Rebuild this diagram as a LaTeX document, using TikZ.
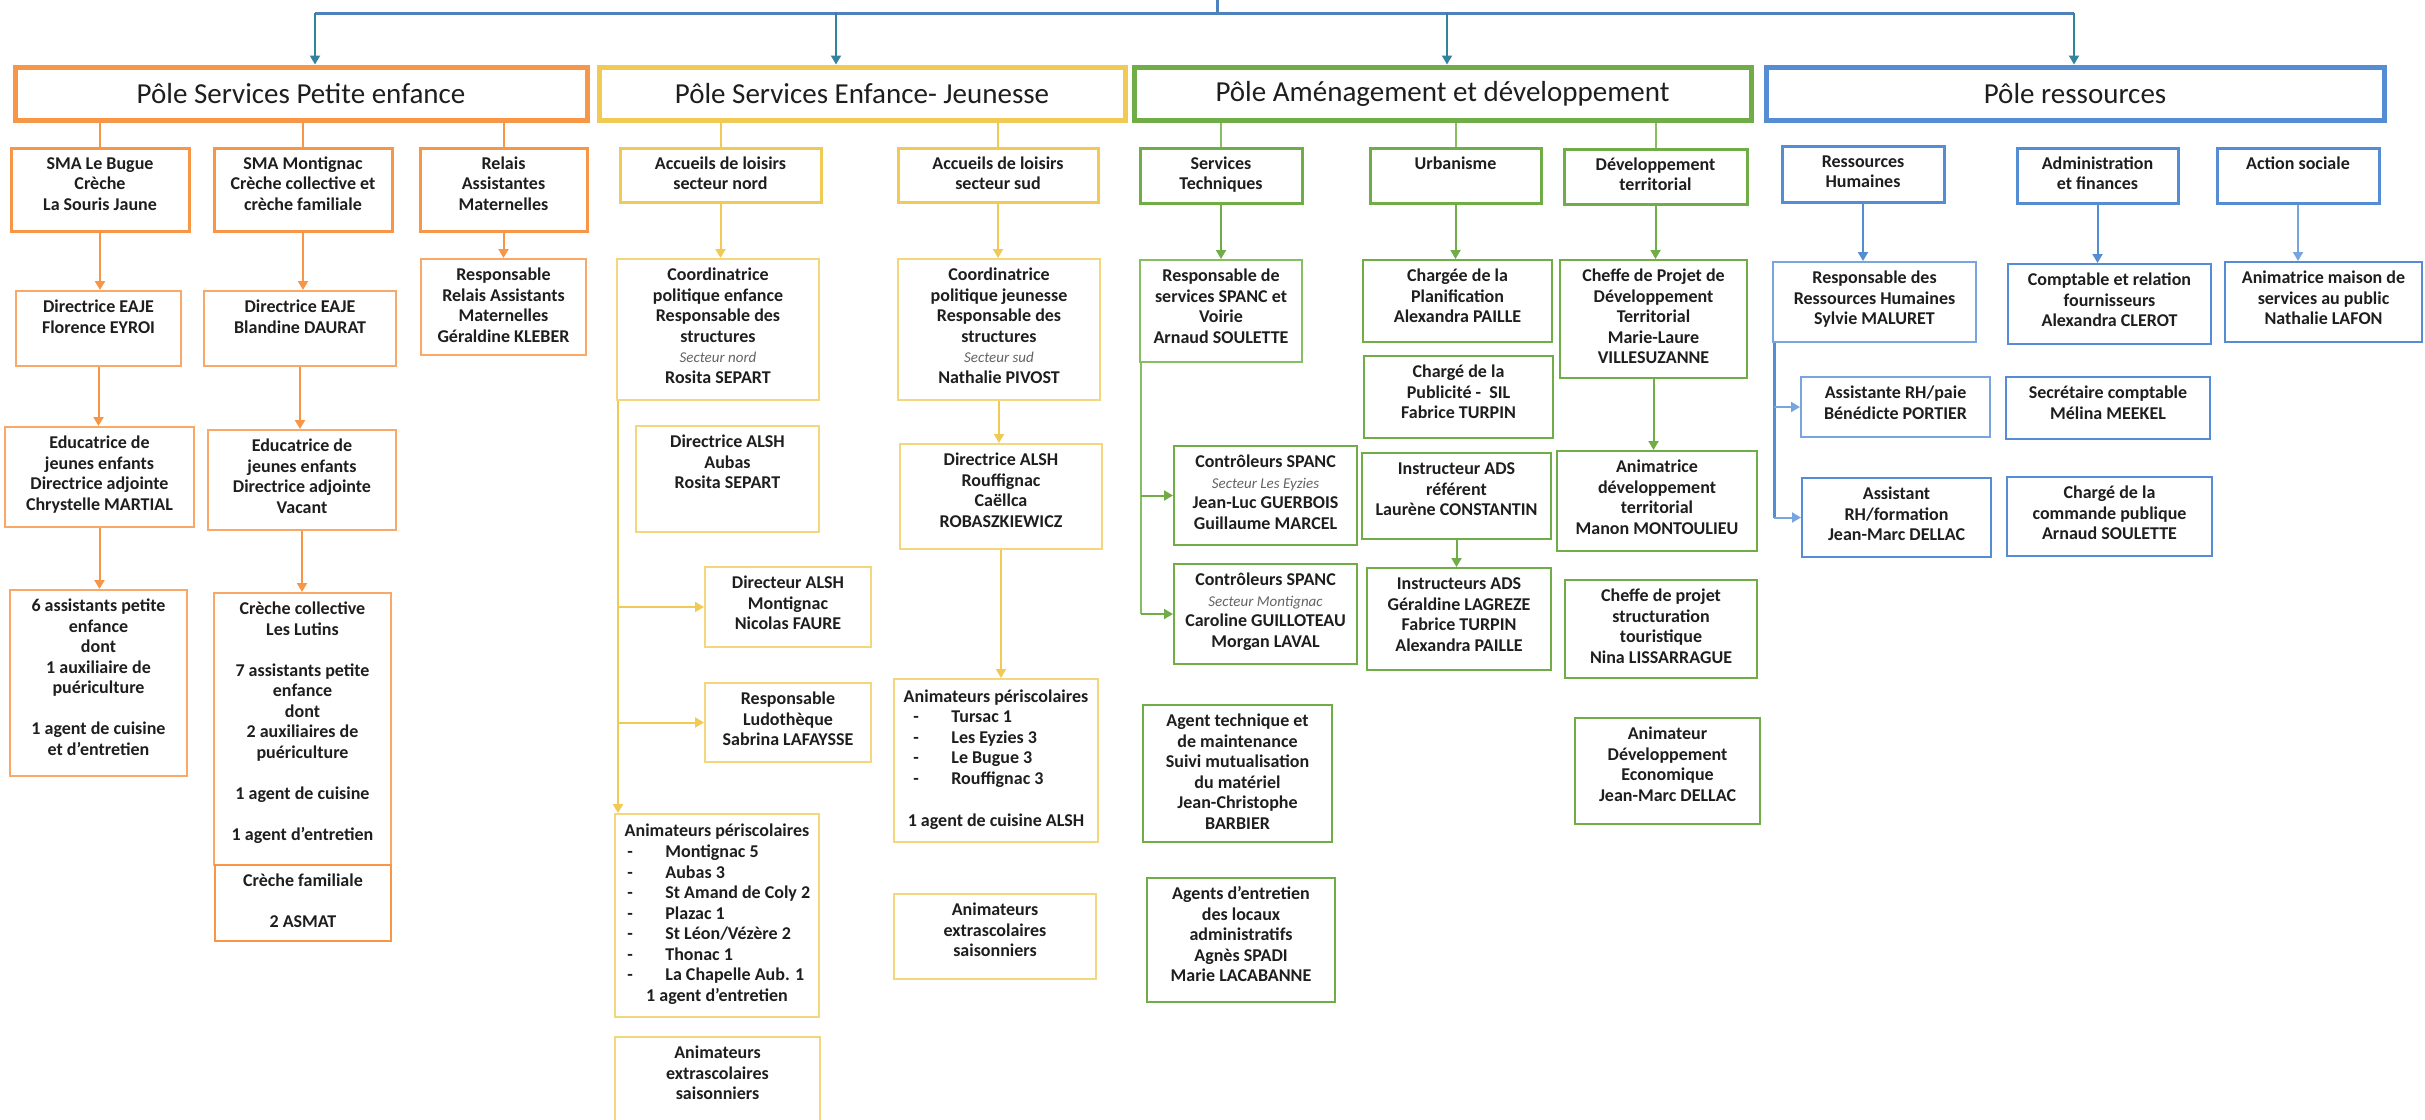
\documentclass[tikz,border=0pt]{standalone}
\usepackage{fontspec}
\setmainfont{Carlito}
\usetikzlibrary{arrows.meta}
\definecolor{cO}{RGB}{247,150,70}
\definecolor{cOl}{RGB}{248,168,105}
\definecolor{cY}{RGB}{240,202,85}
\definecolor{cYl}{RGB}{244,214,125}
\definecolor{cG}{RGB}{112,173,71}
\definecolor{cGl}{RGB}{135,190,95}
\definecolor{cB}{RGB}{84,141,212}
\definecolor{cBl}{RGB}{120,165,222}
\definecolor{cTop}{RGB}{79,129,189}
\definecolor{cTeal}{RGB}{49,132,155}
\definecolor{txtc}{RGB}{30,30,30}
\definecolor{secc}{RGB}{100,100,100}
\newcommand\orgbox[7]{%
  \node[#2, minimum width={(#5-#3)*0.5pt}, minimum height={(#6-#4)*0.5pt}] (#1) at ({(#3+#5)/2},{(#4+#6)/2}) {};
  \node[txt, anchor=north, yshift=-4pt] (#1t) at (#1.north) {\strut #7};}
\newcommand\polebox[7]{%
  \node[pole, draw=#2, minimum width={(#5-#3)*0.5pt}, minimum height={(#6-#4)*0.5pt}] (#1) at ({(#3+#5)/2},{(#4+#6)/2}) {#7};}
\newcommand\sectline[1]{{\fontsize{7.5}{10.25}\selectfont\mdseries\itshape\color{secc}#1}}
\tikzset{
  pole/.style={line width=2.5pt, inner sep=0pt, font=\fontsize{14.5}{16}\selectfont, text=txtc},
  boxA/.style={draw, line width=1.5pt, inner sep=0pt},
  boxB/.style={draw, line width=1pt, inner sep=0pt},
  txt/.style={inner sep=0pt, align=center, font=\fontsize{9}{10.25}\selectfont\bfseries, text=txtc},
  lnk/.style={line width=1pt},
  arw/.style={line width=1pt, -{Triangle[width=5pt,length=4.5pt]}},
  topl/.style={line width=1.5pt, cTop},
  topa/.style={line width=1pt, cTeal, -{Triangle[width=5pt,length=4.5pt]}},
}
\begin{document}
\begin{tikzpicture}[x=0.5pt,y=-0.5pt]
\path[use as bounding box] (0,0) rectangle (2425,1119);
\clip (0,0) rectangle (2425,1119);
\fill[white] (0,0) rectangle (2425,1119);

% ---------- poles ----------
\polebox{pe}{cO}{15}{67}{587}{120}{Pôle Services Petite enfance}
\polebox{pej}{cY}{599}{67}{1125}{120}{Pôle Services Enfance- Jeunesse}
\polebox{pad}{cG}{1134}{67}{1751}{120}{Pôle Aménagement et développement}
\polebox{pr}{cB}{1766}{67}{2384}{120}{Pôle ressources}

% ---------- top connector ----------
\coordinate (root) at (1217,0);
\coordinate (tl) at (315,13);
\coordinate (t2) at (836,13);
\coordinate (t3) at (1447,13);
\coordinate (tr) at (2074,13);
\draw[topl] (root) -- (root |- tl);
\draw[topl] (tl) -- (tr);
\draw[topa] (tl) -- (tl |- pe.north);
\draw[topa] (t2) -- (t2 |- pej.north);
\draw[topa] (t3) -- (t3 |- pad.north);
\draw[topa] (tr) -- (tr |- pr.north);

% ---------- orange ----------
\orgbox{bugue}{boxA,draw=cO}{11}{148}{189}{231}{SMA Le Bugue\\Crèche\\La Souris Jaune}
\orgbox{montig}{boxA,draw=cO}{214}{148}{392}{231}{SMA Montignac\\Crèche collective et\\crèche familiale}
\orgbox{relais}{boxA,draw=cO}{420}{148}{587}{231}{Relais\\Assistantes\\Maternelles}
\orgbox{flo}{boxB,draw=cOl}{16}{291}{181}{366}{Directrice EAJE\\Florence EYROI}
\orgbox{blan}{boxB,draw=cOl}{204}{291}{396}{366}{Directrice EAJE\\Blandine DAURAT}
\orgbox{resprel}{boxB,draw=cOl}{421}{259}{586}{355}{Responsable\\Relais Assistants\\Maternelles\\Géraldine KLEBER}
\orgbox{chrys}{boxB,draw=cOl}{5}{427}{194}{527}{Educatrice de\\jeunes enfants\\Directrice adjointe\\Chrystelle MARTIAL}
\orgbox{vac}{boxB,draw=cOl}{208}{430}{396}{530}{Educatrice de\\jeunes enfants\\Directrice adjointe\\Vacant}
\orgbox{six}{boxB,draw=cOl}{10}{590}{187}{776}{6 assistants petite\\enfance\\dont\\1 auxiliaire de\\puériculture\\[10.25pt]1 agent de cuisine\\et d’entretien}
\orgbox{coll}{boxB,draw=cOl}{214}{593}{391}{865}{Crèche collective\\Les Lutins\\[10.25pt]7 assistants petite\\enfance\\dont\\2 auxiliaires de\\puériculture\\[10.25pt]1 agent de cuisine\\[10.25pt]1 agent d’entretien}
\orgbox{fam}{boxA,draw=cO,line width=1.25pt}{215}{865}{391}{941}{Crèche familiale\\[10.25pt]2 ASMAT}

\draw[lnk,cO] (bugue.north |- pe.south) -- (bugue.north);
\draw[lnk,cO] (montig.north |- pe.south) -- (montig.north);
\draw[lnk,cO] (relais.north |- pe.south) -- (relais.north);
\draw[arw,cO] (bugue.south) -- (bugue.south |- flo.north);
\draw[arw,cO] (montig.south) -- (montig.south |- blan.north);
\draw[arw,cO] (relais.south) -- (relais.south |- resprel.north);
\draw[arw,cO] (flo.south) -- (flo.south |- chrys.north);
\draw[arw,cO] (blan.south) -- (blan.south |- vac.north);
\draw[arw,cO] (chrys.south) -- (chrys.south |- six.north);
\draw[arw,cO] (vac.south) -- (vac.south |- coll.north);

% ---------- yellow ----------
\orgbox{nord}{boxA,draw=cY}{620}{148}{821}{202}{Accueils de loisirs\\secteur nord}
\orgbox{sud}{boxA,draw=cY}{898}{148}{1098}{202}{Accueils de loisirs\\secteur sud}
\orgbox{coordE}{boxB,draw=cYl}{617}{259}{819}{400}{Coordinatrice\\politique enfance\\Responsable des\\structures\\\sectline{Secteur nord}\\Rosita SEPART}
\orgbox{coordJ}{boxB,draw=cYl}{898}{259}{1100}{400}{Coordinatrice\\politique jeunesse\\Responsable des\\structures\\\sectline{Secteur sud}\\Nathalie PIVOST}
\orgbox{aubas}{boxB,draw=cYl}{636}{426}{819}{532}{Directrice ALSH\\Aubas\\Rosita SEPART}
\orgbox{rouf}{boxB,draw=cYl}{900}{444}{1102}{549}{Directrice ALSH\\Rouffignac\\Caëllca\\ROBASZKIEWICZ}
\orgbox{alshm}{boxB,draw=cYl}{705}{567}{871}{647}{Directeur ALSH\\Montignac\\Nicolas FAURE}
\orgbox{ludo}{boxB,draw=cYl}{705}{683}{871}{762}{Responsable\\Ludothèque\\Sabrina LAFAYSSE}
\orgbox{extran}{boxB,draw=cYl}{615}{1037}{820}{1170}{Animateurs\\extrascolaires\\saisonniers}
\orgbox{extras}{boxB,draw=cYl}{894}{894}{1096}{979}{Animateurs\\extrascolaires\\saisonniers}

% periscolaires nord
\node[boxB,draw=cYl, minimum width={204*0.5pt}, minimum height={203*0.5pt}] (perinord) at (717,915.5) {};
\node[txt, anchor=base] (pnh) at (717,836.5) {Animateurs périscolaires};
\foreach \t [count=\i] in {Montignac 5, Aubas 3, St Amand de Coly 2, Plazac 1, St Léon/Vézère 2, Thonac 1, La Chapelle Aub. 1}{
  \node[txt, anchor=base] (pnd\i) at (630,{853+(\i-1)*20.5+4.5}) {-};
  \node[txt, anchor=base west] (pni\i) at (665,{853+(\i-1)*20.5+4.5}) {\t};
}
\node[txt, anchor=base] (pnf) at (717,1001) {1 agent d’entretien};

% periscolaires sud
\node[boxB,draw=cYl, minimum width={204*0.5pt}, minimum height={163*0.5pt}] (perisud) at (996,760.5) {};
\node[txt, anchor=base] (psh) at (996,702.5) {Animateurs périscolaires};
\foreach \t [count=\i] in {Tursac 1, Les Eyzies 3, Le Bugue 3, Rouffignac 3}{
  \node[txt, anchor=base] (psd\i) at (916,{718+(\i-1)*20.5+4.5}) {-};
  \node[txt, anchor=base west] (psi\i) at (951,{718+(\i-1)*20.5+4.5}) {\t};
}
\node[txt, anchor=base] (psf) at (996,826.5) {1 agent de cuisine ALSH};

\draw[lnk,cY] (nord.north |- pej.south) -- (nord.north);
\draw[lnk,cY] (sud.north |- pej.south) -- (sud.north);
\draw[arw,cY] (nord.south) -- (nord.south |- coordE.north);
\draw[arw,cY] (sud.south) -- (sud.south |- coordJ.north);
\draw[arw,cY] (coordJ.south) -- (coordJ.south |- rouf.north);
\draw[arw,cY] (rouf.south) -- (rouf.south |- perisud.north);
\coordinate (yv) at ([xshift=1pt]coordE.south west);
\draw[arw,cY] (yv) -- (yv |- perinord.north);
\draw[arw,cY] (yv |- alshm.west) -- (alshm.west);
\draw[arw,cY] (yv |- ludo.west) -- (ludo.west);

% ---------- green ----------
\orgbox{st}{boxA,draw=cG}{1140}{148}{1302}{203}{Services\\Techniques}
\orgbox{urb}{boxA,draw=cG}{1370}{148}{1541}{203}{Urbanisme}
\orgbox{dt}{boxA,draw=cG}{1564}{149}{1747}{204}{Développement\\territorial}
\orgbox{rspanc}{boxB,draw=cGl}{1140}{260}{1302}{362}{Responsable de\\services SPANC et\\Voirie\\Arnaud SOULETTE}
\orgbox{planif}{boxB,draw=cG}{1363}{260}{1552}{342}{Chargée de la\\Planification\\Alexandra PAILLE}
\orgbox{pub}{boxB,draw=cG}{1364}{356}{1553}{438}{Chargé de la\\Publicité - \ SIL\\Fabrice TURPIN}
\orgbox{cheffe}{boxB,draw=cG}{1560}{260}{1747}{378}{Cheffe de Projet de\\Développement\\Territorial\\Marie-Laure\\VILLESUZANNE}
\orgbox{ctrlE}{boxB,draw=cG}{1174}{446}{1357}{545}{Contrôleurs SPANC\\\sectline{Secteur Les Eyzies}\\Jean-Luc GUERBOIS\\Guillaume MARCEL}
\orgbox{ctrlM}{boxB,draw=cG}{1174}{564}{1357}{664}{Contrôleurs SPANC\\\sectline{Secteur Montignac}\\Caroline GUILLOTEAU\\Morgan LAVAL}
\orgbox{adsr}{boxB,draw=cG}{1362}{453}{1551}{539}{Instructeur ADS\\référent\\Laurène CONSTANTIN}
\orgbox{ads}{boxB,draw=cG}{1367}{568}{1551}{670}{Instructeurs ADS\\Géraldine LAGREZE\\Fabrice TURPIN\\Alexandra PAILLE}
\orgbox{animdt}{boxB,draw=cG}{1557}{451}{1757}{551}{Animatrice\\développement\\territorial\\Manon MONTOULIEU}
\orgbox{struct}{boxB,draw=cG}{1565}{580}{1757}{678}{Cheffe de projet\\structuration\\touristique\\Nina LISSARRAGUE}
\orgbox{agtech}{boxB,draw=cG}{1143}{705}{1332}{842}{Agent technique et\\de maintenance\\Suivi mutualisation\\du matériel\\Jean-Christophe\\BARBIER}
\orgbox{deveco}{boxB,draw=cG}{1575}{718}{1760}{824}{Animateur\\Développement\\Economique\\Jean-Marc DELLAC}
\orgbox{entret}{boxB,draw=cG}{1147}{878}{1335}{1002}{Agents d'entretien\\des locaux\\administratifs\\Agnès SPADI\\Marie LACABANNE}

\draw[lnk,cGl] (st.north |- pad.south) -- (st.north);
\draw[lnk,cGl] (urb.north |- pad.south) -- (urb.north);
\draw[lnk,cGl] (dt.north |- pad.south) -- (dt.north);
\draw[arw,cG] (st.south) -- (st.south |- rspanc.north);
\draw[arw,cG] (urb.south) -- (urb.south |- planif.north);
\draw[arw,cG] (dt.south) -- (dt.south |- cheffe.north);
\draw[arw,cG] (cheffe.south) -- (cheffe.south |- animdt.north);
\draw[arw,cG] (adsr.south) -- (adsr.south |- ads.north);
\coordinate (gv) at ([xshift=1pt]rspanc.south west);
\draw[lnk,cGl] (gv) -- (gv |- ctrlM.west);
\draw[arw,cG] (gv |- ctrlE.west) -- (ctrlE.west);
\draw[arw,cG] (gv |- ctrlM.west) -- (ctrlM.west);

% ---------- blue ----------
\orgbox{rh}{boxA,draw=cB}{1782}{146}{1944}{202}{Ressources\\Humaines}
\orgbox{adm}{boxA,draw=cB}{2017}{148}{2178}{203}{Administration\\et finances}
\orgbox{act}{boxA,draw=cB}{2217}{148}{2379}{203}{Action sociale}
\orgbox{resprh}{boxB,draw=cBl}{1773}{262}{1976}{342}{Responsable des\\Ressources Humaines\\Sylvie MALURET}
\orgbox{compt}{boxB,draw=cB}{2008}{264}{2211}{344}{Comptable et relation\\fournisseurs\\Alexandra CLEROT}
\orgbox{animms}{boxB,draw=cB}{2225}{262}{2422}{342}{Animatrice maison de\\services au public\\Nathalie LAFON}
\orgbox{asspaie}{boxB,draw=cBl}{1801}{377}{1990}{437}{Assistante RH/paie\\Bénédicte PORTIER}
\orgbox{secr}{boxB,draw=cB}{2006}{377}{2210}{439}{Secrétaire comptable\\Mélina MEEKEL}
\orgbox{assform}{boxB,draw=cB}{1802}{478}{1991}{557}{Assistant\\RH/formation\\Jean-Marc DELLAC}
\orgbox{cmdpub}{boxB,draw=cB}{2007}{477}{2212}{556}{Chargé de la\\commande publique\\Arnaud SOULETTE}

\draw[arw,cB] (rh.south) -- (rh.south |- resprh.north);
\draw[arw,cB] (adm.south) -- (adm.south |- compt.north);
\draw[arw,cBl] (act.south) -- (act.south |- animms.north);
\coordinate (bv) at ([xshift=1pt]resprh.south west);
\draw[lnk,cB,line width=1.5pt] (bv) -- (bv |- assform.west);
\draw[arw,cBl] (bv |- asspaie.west) -- (asspaie.west);
\draw[arw,cBl] (bv |- assform.west) -- (assform.west);
\end{tikzpicture}
\end{document}
